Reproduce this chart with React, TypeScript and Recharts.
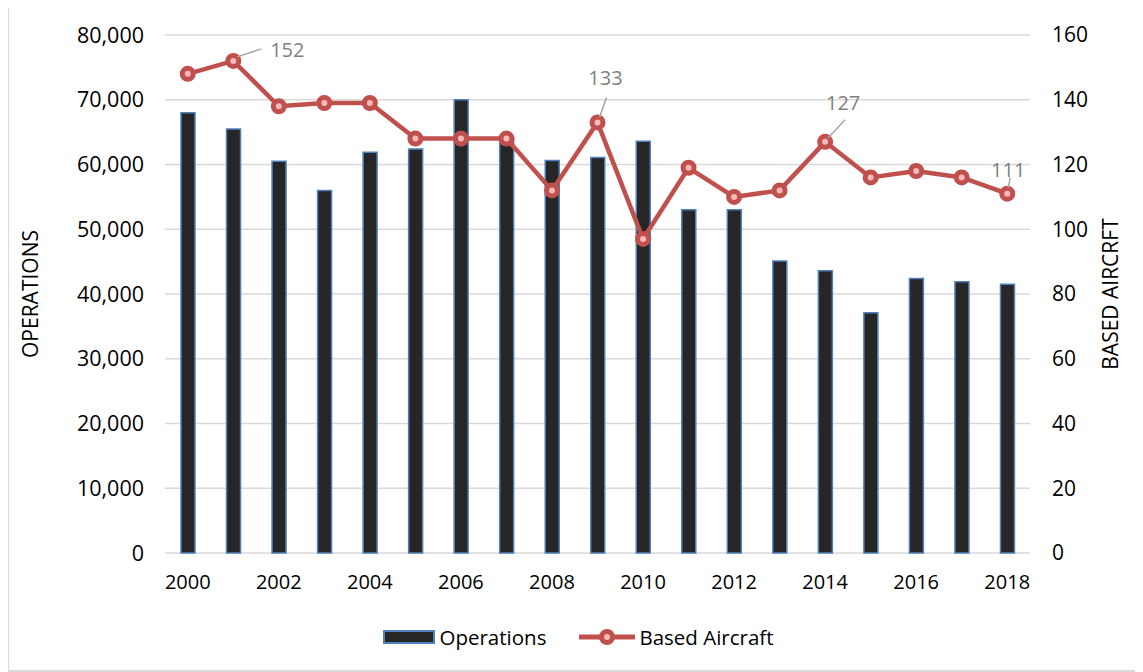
import React from 'react';
import { ComposedChart, Bar, Line, XAxis, YAxis, CartesianGrid, Legend, LabelList } from 'recharts';

const years = [
    '2000', '2001', '2002', '2003', '2004', '2005', '2006', '2007', '2008', '2009',
    '2010', '2011', '2012', '2013', '2014', '2015', '2016', '2017', '2018',
];
const operations = [
    68000, 65500, 60500, 56000, 61900, 62400, 70000, 64000, 60600, 61100,
    63600, 53000, 53000, 45100, 43600, 37100, 42400, 41900, 41500,
];
const basedAircraft = [148, 152, 138, 139, 139, 128, 128, 128, 112, 133, 97, 119, 110, 112, 127, 116, 118, 116, 111];
const labeledYears = ['2001', '2009', '2014', '2018'];

const leftTicks = [0, 10000, 20000, 30000, 40000, 50000, 60000, 70000, 80000];
const rightTicks = [0, 20, 40, 60, 80, 100, 120, 140, 160];

const data = years.map((year, i) => ({
    year,
    operations: operations[i],
    based: basedAircraft[i],
}));

const FONT = '"Open Sans", sans-serif';
const BAR_FILL = '#262626';
const BAR_STROKE = '#4f81bd';
const LINE = '#c0504d';
const DOT_FILL = '#f9b9b9';

// where each callout sits relative to its point
const callouts: Record<string, { tx: number; ty: number; x1: number; y1: number; x2: number; y2: number }> = {
    '2001': { tx: 54, ty: -11, x1: 4, y1: -4, x2: 28, y2: -12 },
    '2009': { tx: 8, ty: -45, x1: 2, y1: -5, x2: 9, y2: -25 },
    '2014': { tx: 18, ty: -39, x1: 3, y1: -4, x2: 20, y2: -22 },
    '2018': { tx: 1, ty: -24, x1: 1, y1: -6, x2: 3, y2: -16 },
};

const CalloutLabel = (props: any) => {
    const { x, y, index, value } = props;
    const year = years[index];
    if (!labeledYears.includes(year)) return null;
    const c = callouts[year];
    return (
        <g>
            <line x1={x + c.x1} y1={y + c.y1} x2={x + c.x2} y2={y + c.y2} stroke="#a6a6a6" strokeWidth={1.5} />
            <text x={x + c.tx} y={y + c.ty} textAnchor="middle" dominantBaseline="central" fill="#7f7f7f" fontSize={20} fontFamily={FONT}>
                {value}
            </text>
        </g>
    );
};

const LegendContent = () => (
    <div style={{ display: 'flex', justifyContent: 'center', alignItems: 'center', fontFamily: FONT, fontSize: 20.5, color: '#000', paddingLeft: 8 }}>
        <svg width={52} height={14} style={{ marginRight: 4 }}>
            <rect x={1} y={1} width={50} height={12} fill={BAR_FILL} stroke={BAR_STROKE} strokeWidth={2} />
        </svg>
        <span style={{ marginRight: 33 }}>Operations</span>
        <svg width={56} height={18} style={{ marginRight: 4 }}>
            <line x1={1} y1={9} x2={55} y2={9} stroke={LINE} strokeWidth={5} strokeLinecap="round" />
            <circle cx={28} cy={9} r={5.5} fill={DOT_FILL} stroke={LINE} strokeWidth={5} />
        </svg>
        <span>Based Aircraft</span>
    </div>
);

const App = () => {
    return (
        <div style={{ marginLeft: -1, marginTop: -3, width: 1135, height: 667, boxSizing: 'border-box', border: '2px solid #d9d9d9', background: '#fff' }}>
            <ComposedChart width={1131} height={663} data={data} margin={{ top: 28, right: 0, left: 0, bottom: 0 }}>
                <CartesianGrid yAxisId="left" vertical={false} stroke="#d9d9d9" strokeWidth={1.5} />
                <XAxis
                    dataKey="year"
                    height={117}
                    interval={1}
                    axisLine={false}
                    tickLine={false}
                    tickSize={0}
                    tickMargin={22}
                    tick={{ fill: '#000', fontSize: 20, fontFamily: FONT }}
                />
                <YAxis
                    yAxisId="left"
                    width={156}
                    domain={[0, 80000]}
                    ticks={leftTicks}
                    axisLine={false}
                    tickLine={false}
                    tickSize={0}
                    tickMargin={21}
                    tickFormatter={(v: number) => v.toLocaleString('en-US')}
                    tick={{ fill: '#000', fontSize: 21.5, fontFamily: FONT }}
                    label={{ value: 'OPERATIONS', angle: -90, position: 'insideLeft', dx: 17, style: { fill: '#000', fontSize: 21, fontFamily: FONT, textAnchor: 'middle' } }}
                />
                <YAxis
                    yAxisId="right"
                    orientation="right"
                    width={110}
                    domain={[0, 160]}
                    ticks={rightTicks}
                    axisLine={false}
                    tickLine={false}
                    tickSize={0}
                    tickMargin={22}
                    tick={{ fill: '#000', fontSize: 21, fontFamily: FONT }}
                    label={{ value: 'BASED AIRCRFT', angle: -90, position: 'insideRight', dx: -24, style: { fill: '#000', fontSize: 21, fontFamily: FONT, textAnchor: 'middle' } }}
                />
                <Bar yAxisId="left" dataKey="operations" name="Operations" barSize={14} fill={BAR_FILL} stroke={BAR_STROKE} strokeWidth={1.5} isAnimationActive={false} />
                <Line
                    yAxisId="right"
                    dataKey="based"
                    name="Based Aircraft"
                    stroke={LINE}
                    strokeWidth={4.5}
                    dot={{ r: 5.5, fill: DOT_FILL, stroke: LINE, strokeWidth: 5 }}
                    activeDot={false}
                    isAnimationActive={false}
                >
                    <LabelList dataKey="based" content={CalloutLabel} />
                </Line>
                <Legend
                    verticalAlign="middle"
                    layout="horizontal"
                    content={LegendContent}
                    wrapperStyle={{ top: 616, left: 0, width: 1131 }}
                />
            </ComposedChart>
        </div>
    );
};

export default App;
